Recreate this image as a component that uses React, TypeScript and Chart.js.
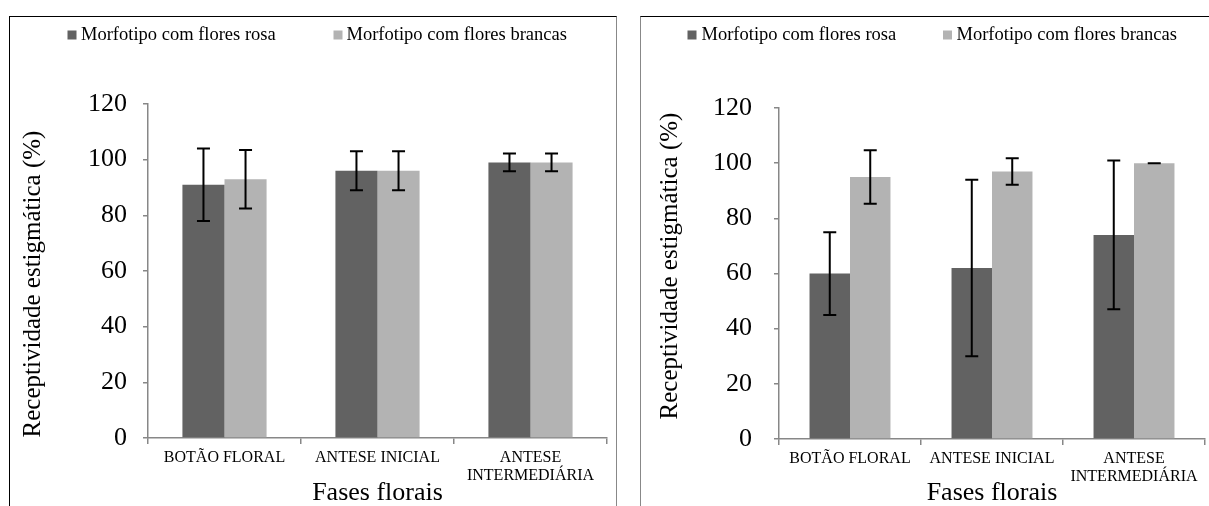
import React, { useEffect, useRef } from "react";
import { Chart, registerables } from "chart.js";

Chart.register(...registerables);

// ---- data ----
const categories: (string | string[])[] = ["BOTÃO FLORAL", "ANTESE INICIAL", ["ANTESE", "INTERMEDIÁRIA"]];
const seriesNames = ["Morfotipo com flores rosa", "Morfotipo com flores brancas"];
const seriesColors = ["#626262", "#b3b3b3"];
const yTickValues = [0, 20, 40, 60, 80, 100, 120];
const yAxisTitle = "Receptividade estigmática (%)";
const xAxisTitle = "Fases florais";

const leftRosa = [91, 96, 99];
const leftRosaErr = [13, 7, 3.2];
const leftBrancas = [93, 96, 99];
const leftBrancasErr = [10.5, 7, 3.2];

const rightRosa = [60, 62, 74];
const rightRosaErr = [15, 32, 27];
const rightBrancas = [95, 97, 100];
const rightBrancasErr = [9.7, 4.8, 0];

const FONT = "'Liberation Serif', 'Times New Roman', serif";

type PanelCfg = {
  values: number[][];
  errors: number[][];
  canvasLeft: number;
  canvasTop: number;
  width: number;
  height: number;
  padTop: number;
  padRight: number;
  xAxisHeight: number;
  yAxisWidth: number;
  yTitleX: number;
  yTitleY: number;
  yTickPad: number;
  catPct: number;
  legendX: number[]; // [box1, text1, box2, text2]
};

function ChartPanel({ cfg }: { cfg: PanelCfg }) {
  const ref = useRef<HTMLCanvasElement | null>(null);
  useEffect(() => {
    if (!ref.current) return;
    const errorPlugin = {
      id: "errorBars",
      afterDatasetsDraw(chart: any) {
        const ctx = chart.ctx;
        const yScale = chart.scales.y;
        ctx.save();
        ctx.strokeStyle = "#000";
        ctx.lineWidth = 2;
        chart.data.datasets.forEach((ds: any, i: number) => {
          const meta = chart.getDatasetMeta(i);
          meta.data.forEach((el: any, j: number) => {
            const v = ds.data[j];
            const e = ds.errorBars[j];
            const yt = yScale.getPixelForValue(v + e);
            const yb = yScale.getPixelForValue(v - e);
            const x = el.x;
            const cap = 6.5;
            ctx.beginPath();
            ctx.moveTo(x, yt);
            ctx.lineTo(x, yb);
            ctx.moveTo(x - cap, yt);
            ctx.lineTo(x + cap, yt);
            ctx.moveTo(x - cap, yb);
            ctx.lineTo(x + cap, yb);
            ctx.stroke();
          });
        });
        ctx.restore();
      },
    };
    const legendPlugin = {
      id: "simpleLegend",
      afterDraw(chart: any) {
        const ctx = chart.ctx;
        ctx.save();
        ctx.font = `18.5px ${FONT}`;
        ctx.textBaseline = "alphabetic";
        ctx.textAlign = "left";
        chart.data.datasets.forEach((ds: any, i: number) => {
          const bx = cfg.legendX[i * 2];
          const tx = cfg.legendX[i * 2 + 1];
          ctx.fillStyle = ds.backgroundColor;
          ctx.fillRect(bx, 13.5, 9, 9);
          ctx.fillStyle = "#000";
          ctx.fillText(ds.label, tx, 23);
        });
        // y axis title
        ctx.translate(cfg.yTitleX, cfg.yTitleY);
        ctx.rotate(-Math.PI / 2);
        ctx.font = `25px ${FONT}`;
        ctx.textAlign = "center";
        ctx.textBaseline = "middle";
        ctx.fillStyle = "#000";
        ctx.fillText(yAxisTitle, 0, 0);
        ctx.restore();
      },
    };
    const chart = new Chart(ref.current, {
      type: "bar",
      data: {
        labels: categories,
        datasets: cfg.values.map((vals, i) => ({
          label: seriesNames[i],
          data: vals,
          errorBars: cfg.errors[i],
          backgroundColor: seriesColors[i],
          borderWidth: 0,
          barPercentage: 1,
          categoryPercentage: cfg.catPct,
        })) as any,
      },
      options: {
        animation: false,
        responsive: false,
        layout: { padding: { top: cfg.padTop, right: cfg.padRight, bottom: 0, left: 0 } },
        plugins: {
          legend: { display: false },
          tooltip: { enabled: false },
          title: { display: false },
        },
        scales: {
          x: {
            grid: {
              drawOnChartArea: false,
              drawTicks: true,
              tickLength: 6,
              color: "#878787",
              lineWidth: 1.5,
            },
            border: { color: "#878787", width: 1.5 },
            ticks: {
              color: "#000",
              padding: 5,
              maxRotation: 0,
              autoSkip: false,
              font: { family: FONT, size: 16, lineHeight: 1.1 },
            },
            title: {
              display: true,
              text: xAxisTitle,
              color: "#000",
              padding: { top: 0, bottom: 0 },
              font: { family: FONT, size: 26, lineHeight: 1 },
            },
            afterFit(scale: any) {
              scale.height = cfg.xAxisHeight;
            },
          },
          y: {
            min: 0,
            max: 120,
            afterBuildTicks(scale: any) {
              scale.ticks = yTickValues.map((v) => ({ value: v }));
            },
            grid: {
              drawOnChartArea: false,
              drawTicks: true,
              tickLength: 5,
              color: "#878787",
              lineWidth: 1.5,
            },
            border: { color: "#878787", width: 1.5 },
            ticks: {
              color: "#000",
              padding: cfg.yTickPad,
              font: { family: FONT, size: 26 },
            },
            title: { display: false },
            afterFit(scale: any) {
              scale.width = cfg.yAxisWidth;
            },
          },
        },
      },
      plugins: [errorPlugin, legendPlugin],
    } as any);
    return () => chart.destroy();
  }, [cfg]);
  return (
    <canvas
      ref={ref}
      width={cfg.width}
      height={cfg.height}
      style={{
        position: "absolute",
        left: cfg.canvasLeft,
        top: cfg.canvasTop,
        width: cfg.width,
        height: cfg.height,
        display: "block",
      }}
    />
  );
}

const leftCfg: PanelCfg = {
  values: [leftRosa, leftBrancas],
  errors: [leftRosaErr, leftBrancasErr],
  canvasLeft: 10,
  canvasTop: 17,
  width: 608,
  height: 489,
  padTop: 87,
  padRight: 11,
  xAxisHeight: 68,
  yAxisWidth: 138,
  yTitleX: 23.5,
  yTitleY: 267,
  yTickPad: 16,
  catPct: 0.55,
  legendX: [57.5, 71, 323.5, 336.5],
};

const rightCfg: PanelCfg = {
  values: [rightRosa, rightBrancas],
  errors: [rightRosaErr, rightBrancasErr],
  canvasLeft: 641,
  canvasTop: 17,
  width: 568,
  height: 489,
  padTop: 91,
  padRight: 4,
  xAxisHeight: 67,
  yAxisWidth: 138,
  yTitleX: 29.5,
  yTitleY: 249,
  yTickPad: 22,
  catPct: 0.57,
  legendX: [46.5, 60.5, 302, 315.5],
};

export default function App() {
  return (
    <div
      style={{
        position: "absolute",
        left: 0,
        top: 0,
        width: 1209,
        height: 506,
        overflow: "hidden",
        background: "#fff",
      }}
    >
      <div
        style={{
          position: "absolute",
          left: 9,
          top: 16,
          width: 608,
          height: 520,
          borderTop: "1.5px solid #000",
          borderLeft: "1.5px solid #000",
          borderRight: "1.5px solid #888",
          boxSizing: "border-box",
        }}
      />
      <div
        style={{
          position: "absolute",
          left: 640,
          top: 16,
          width: 600,
          height: 520,
          borderTop: "1.5px solid #000",
          borderLeft: "1.5px solid #888",
          boxSizing: "border-box",
        }}
      />
      <ChartPanel cfg={leftCfg} />
      <ChartPanel cfg={rightCfg} />
    </div>
  );
}
